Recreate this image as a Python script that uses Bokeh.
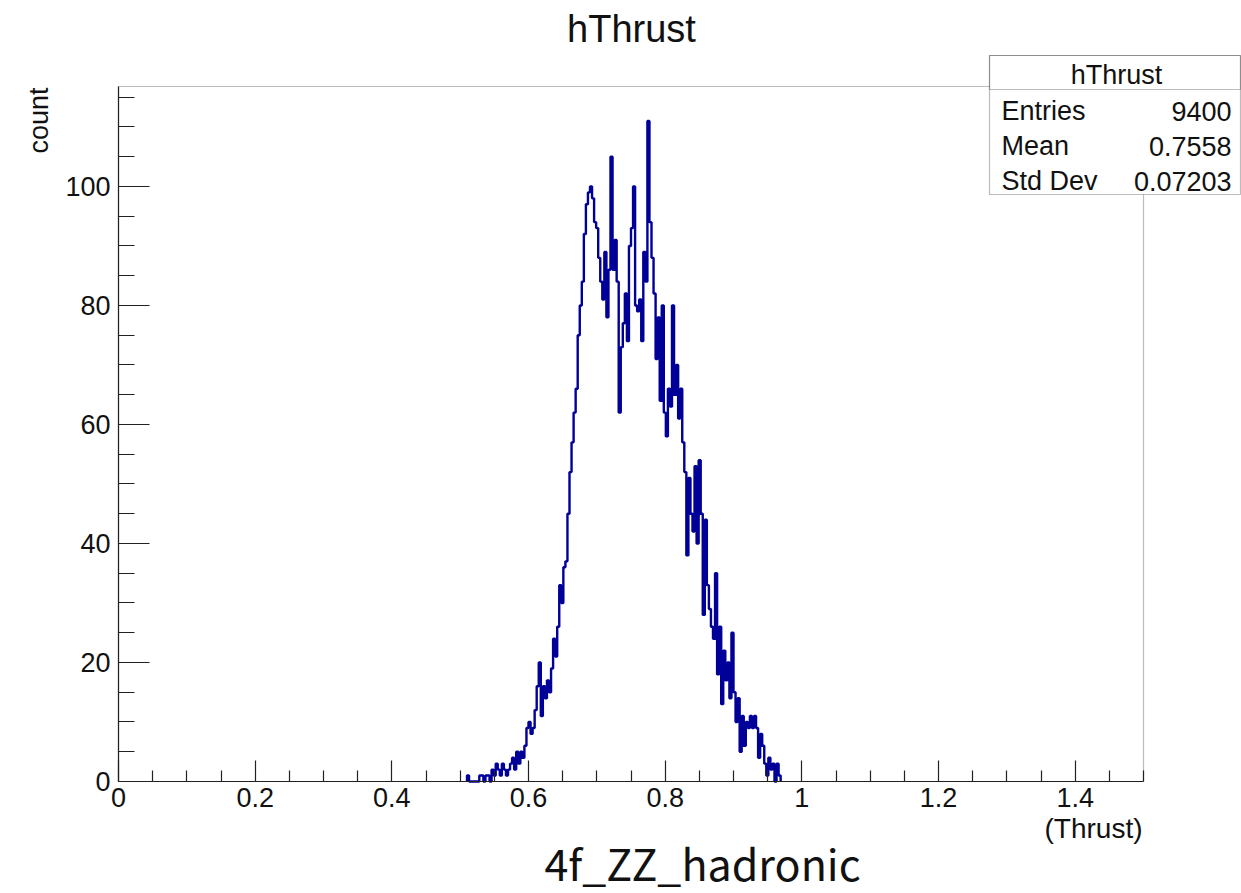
import numpy as np
from bokeh.plotting import figure
from bokeh.models import FixedTicker, Label, BoxAnnotation
from bokeh.embed import file_html
from bokeh.resources import INLINE

# ---------------- data ----------------
hist_name = "hThrust"
x_title = "(Thrust)"
y_title = "count"
sample_name = "4f_ZZ_hadronic"
bin_start = 0.510
bin_width = 0.003
counts = [
    1, 0, 0, 0, 0, 0, 1, 1, 0, 1,
    1, 0, 2, 1, 3, 2, 1, 3, 2, 1,
    2, 3, 4, 2, 5, 3, 5, 4, 6, 9,
    10, 8, 9, 12, 16, 20, 11, 16, 14, 17,
    15, 19, 24, 21, 26, 33, 30, 36, 37, 45,
    52, 57, 62, 66, 75, 80, 84, 92, 97, 99,
    100, 98, 94, 93, 88, 84, 81, 89, 78, 86,
    105, 86, 91, 84, 62, 73, 77, 82, 74, 90,
    93, 100, 80, 79, 81, 74, 89, 84, 111, 94,
    88, 82, 71, 78, 64, 80, 62, 58, 66, 63,
    80, 65, 70, 61, 66, 57, 52, 38, 51, 45,
    42, 53, 40, 54, 45, 28, 44, 33, 29, 26,
    24, 35, 18, 26, 13, 22, 17, 20, 14, 25,
    15, 10, 14, 5, 11, 6, 10, 9, 11, 9,
    11, 9, 4, 8, 6, 3, 1, 4, 2, 3,
    0, 3, 1,
]
x_ticks = [0, 0.2, 0.4, 0.6, 0.8, 1.0, 1.2, 1.4]
x_tick_labels = ["0", "0.2", "0.4", "0.6", "0.8", "1", "1.2", "1.4"]
y_ticks = [0, 20, 40, 60, 80, 100]
stat_names = ["Entries", "Mean", "Std Dev"]
stat_values = ["9400", "0.7558", "0.07203"]

# ---------------- layout ----------------
X0, X1 = 0.0, 1.5          # histogram axis range
Y0, Y1 = 0.0, 116.8
W, H = 1241, 893
FL, FR, FT, FB = 118, 1143, 86, 781   # inner frame in pixels


def dx(px):
    return X0 + (px - FL) / (FR - FL) * (X1 - X0)


def dy(py):
    return Y0 + (FB - py) / (FB - FT) * (Y1 - Y0)


p = figure(width=W, height=H, x_range=(dx(0), dx(W)), y_range=(dy(H), dy(0)),
           output_backend="svg", toolbar_location=None, title=None,
           min_border_left=0, min_border_right=0,
           min_border_top=0, min_border_bottom=0)
p.xgrid.visible = False
p.ygrid.visible = False
p.background_fill_color = "white"
p.border_fill_color = "white"
p.outline_line_color = None

# plot frame (top / right sides)
p.add_layout(BoxAnnotation(left=X0, right=X1, bottom=Y0, top=Y1,
                           fill_alpha=0.0, line_color="#222222",
                           line_width=1.2, level="annotation"))

edges = bin_start + bin_width * np.arange(len(counts) + 1)
xs, ys = [edges[0]], [0]
for i, c in enumerate(counts):
    xs += [edges[i], edges[i + 1]]
    ys += [c, c]
xs.append(edges[-1])
ys.append(0)
p.line(xs, ys, line_color="#000099", line_width=2.4)

font = "Liberation Sans"
# x axis
x_minor = [round(0.05 * k, 2) for k in range(0, 31) if k % 4 != 0]
p.xaxis.fixed_location = Y0
p.xaxis.bounds = (X0, X1)
p.xaxis.ticker = FixedTicker(ticks=x_ticks, minor_ticks=x_minor)
p.xaxis.major_label_overrides = {t: l for t, l in zip(x_ticks, x_tick_labels)}
p.xaxis.major_tick_in = 21
p.xaxis.major_tick_out = 0
p.xaxis.minor_tick_in = 11
p.xaxis.minor_tick_out = 0
p.xaxis.major_label_standoff = 6
# y axis
y_minor = [5 * k for k in range(0, 24) if k % 4 != 0]
p.yaxis.fixed_location = X0
p.yaxis.bounds = (Y0, Y1)
p.yaxis.ticker = FixedTicker(ticks=y_ticks, minor_ticks=y_minor)
p.yaxis.major_tick_in = 31
p.yaxis.major_tick_out = 0
p.yaxis.minor_tick_in = 16
p.yaxis.minor_tick_out = 0
p.yaxis.major_label_standoff = 8
for ax in (p.xaxis, p.yaxis):
    ax.axis_line_color = "#222222"
    ax.axis_line_width = 1.2
    ax.major_tick_line_color = "#222222"
    ax.minor_tick_line_color = "#222222"
    ax.major_tick_line_width = 1.2
    ax.minor_tick_line_width = 1.2
    ax.major_label_text_font = font
    ax.major_label_text_font_size = "27px"
    ax.major_label_text_color = "#111111"

# titles
p.add_layout(Label(x=dx(631), y=dy(28), text=hist_name, text_font=font,
                   text_font_size="38px", text_align="center",
                   text_baseline="middle", text_color="#111111"))
p.add_layout(Label(x=dx(1142), y=dy(828), text=x_title, text_font=font,
                   text_font_size="28px", text_align="right",
                   text_baseline="middle", text_color="#111111"))
p.add_layout(Label(x=dx(38), y=dy(87), text=y_title, text_font=font,
                   text_font_size="27px", text_align="right", angle=np.pi / 2,
                   text_baseline="middle", text_color="#111111"))
p.add_layout(Label(x=dx(702), y=dy(861), text=sample_name,
                   text_font="Noto Sans CJK JP", text_font_size="43px",
                   text_align="center", text_baseline="middle",
                   text_color="#111111"))

# stats box
p.add_layout(BoxAnnotation(left=dx(989), right=dx(1240), top=dy(55), bottom=dy(194),
                           fill_color="white", fill_alpha=1.0,
                           line_color="#222222", line_width=1.2, level="overlay"))
p.add_layout(BoxAnnotation(left=dx(989), right=dx(1240), top=dy(55), bottom=dy(89),
                           fill_alpha=0.0, line_color="#222222", line_width=1.2,
                           level="overlay"))
p.add_layout(Label(x=dx(1116), y=dy(74), text=hist_name, text_font=font,
                   text_font_size="27px", text_align="center",
                   text_baseline="middle", text_color="#111111", level="overlay"))
row_mid = [110.5, 145.5, 180.5]
for name, val, b in zip(stat_names, stat_values, row_mid):
    p.add_layout(Label(x=dx(1001), y=dy(b), text=name, text_font=font,
                       text_font_size="27px", text_align="left",
                       text_baseline="middle", text_color="#111111",
                       level="overlay"))
    p.add_layout(Label(x=dx(1231), y=dy(b), text=val, text_font=font,
                       text_font_size="27px", text_align="right",
                       text_baseline="middle", text_color="#111111",
                       level="overlay"))

open("out.html", "w").write(file_html(p, INLINE))
